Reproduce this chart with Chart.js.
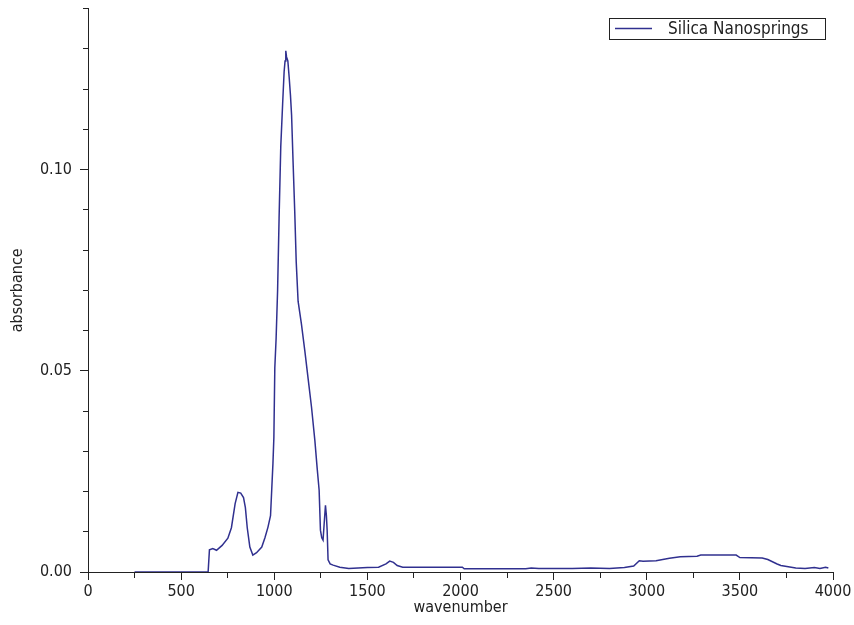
<!DOCTYPE html>
<html><head><meta charset="utf-8">
<script src="https://cdn.jsdelivr.net/npm/chart.js@4"></script>
<style>html,body{margin:0;padding:0;background:#fff}</style>
</head><body>
<canvas id="c" width="854" height="625"></canvas>
<script>
// ---- data ----
const seriesLabel = 'Silica Nanosprings';
const xTitle = 'wavenumber';
const yTitle = 'absorbance';
const xTickValues = [0,250,500,750,1000,1250,1500,1750,2000,2250,2500,2750,3000,3250,3500,3750,4000];
const yTickValues = [0,0.01,0.02,0.03,0.04,0.05,0.06,0.07,0.08,0.09,0.10,0.11,0.12,0.13,0.14];
const xLabelStep = 500;
const yLabelStep = 0.05;

const wavenumber = [250,400,500,600,645,652,670,690,720,751,770,790,805,820,835,845,855,869,885,905,933,950,966,980,987,993,998,1003,1010,1018,1026,1035,1045,1053,1058,1062,1066,1073,1080,1087,1093,1101,1110,1118,1128,1146,1164,1182,1200,1218,1230,1241,1248,1255,1262,1268,1275,1280,1284,1289,1300,1316,1352,1400,1450,1500,1560,1600,1620,1640,1660,1690,1800,1900,2010,2020,2200,2350,2380,2420,2600,2700,2800,2880,2930,2960,2980,3050,3122,3180,3270,3290,3480,3500,3620,3650,3700,3720,3800,3850,3900,3930,3960,3975];
const absorbance = [0,0,0,0,0,0.0055,0.0058,0.0054,0.0066,0.0084,0.011,0.017,0.0198,0.0196,0.0185,0.016,0.011,0.0062,0.0042,0.0048,0.0062,0.0085,0.0111,0.014,0.021,0.027,0.0334,0.0507,0.058,0.070,0.088,0.1057,0.1163,0.1243,0.127,0.1295,0.128,0.127,0.123,0.1185,0.1136,0.102,0.0896,0.077,0.0673,0.0616,0.055,0.048,0.041,0.0327,0.026,0.0203,0.0104,0.0085,0.0079,0.012,0.0166,0.014,0.0104,0.003,0.002,0.0017,0.0012,0.0009,0.001,0.0011,0.0012,0.002,0.0027,0.0024,0.0016,0.0012,0.0012,0.0012,0.0012,0.0008,0.0008,0.0008,0.001,0.0009,0.0009,0.001,0.0009,0.0011,0.0015,0.0028,0.0027,0.0028,0.0034,0.0038,0.0039,0.0042,0.0042,0.0036,0.0035,0.0031,0.002,0.0016,0.001,0.0009,0.0011,0.0009,0.0012,0.001];

// ---- styling ----
const FONT = '"DejaVu Sans Condensed", "Liberation Sans Narrow", "DejaVu Sans", sans-serif';
const INK = '#222';
const LINE = '#30308f';
const TICK_SIZE = 16;
const TITLE_SIZE = 16;

const isMajor = (v, step) => Math.abs(Math.round(v / step) * step - v) < 1e-9;

const legendBox = {
  id: 'legendBox',
  afterDraw(chart) {
    const c = chart.ctx;
    const ds = chart.data.datasets[0];
    c.save();
    c.strokeStyle = INK; c.lineWidth = 1;
    c.strokeRect(609.5, 18.5, 216, 21);
    c.strokeStyle = ds.borderColor; c.lineWidth = 1.5;
    c.beginPath(); c.moveTo(615, 28.5); c.lineTo(652, 28.5); c.stroke();
    c.fillStyle = INK; c.font = '17px ' + FONT; c.textBaseline = 'middle'; c.textAlign = 'left';
    c.fillText(ds.label, 668, 29.5);
    c.restore();
  }
};

new Chart(document.getElementById('c'), {
  type: 'line',
  data: {
    datasets: [{
      label: seriesLabel,
      data: wavenumber.map((x, i) => ({x: x, y: absorbance[i]})),
      borderColor: LINE,
      borderWidth: 1.5,
      pointRadius: 0,
      tension: 0,
      fill: false
    }]
  },
  options: {
    responsive: false,
    animation: false,
    devicePixelRatio: 1,
    layout: {padding: {left: 0, top: 6, right: 21, bottom: 0}},
    plugins: {legend: {display: false}, tooltip: {enabled: false}},
    scales: {
      x: {
        type: 'linear', min: 0, max: 4000,
        afterBuildTicks: s => { s.ticks = xTickValues.map(v => ({value: v})); },
        afterFit: s => { s.height = 53; },
        ticks: {
          autoSkip: false, maxRotation: 0, padding: 2, color: INK,
          font: {family: FONT, size: TICK_SIZE},
          callback: v => isMajor(v, xLabelStep) ? String(v) : ''
        },
        grid: {
          drawOnChartArea: false, tickLength: 8, tickColor: INK, tickWidth: 1,
          tickBorderDash: c => (c.tick && isMajor(c.tick.value, xLabelStep)) ? [] : [5, 100]
        },
        border: {color: INK, width: 1},
        title: {display: true, text: xTitle, color: INK, font: {family: FONT, size: TITLE_SIZE}, padding: {top: 0, bottom: 8}}
      },
      y: {
        type: 'linear', min: 0, max: 0.14,
        afterBuildTicks: s => { s.ticks = yTickValues.map(v => ({value: v})); },
        afterFit: s => { s.width = 88; },
        ticks: {
          autoSkip: false, padding: 8, color: INK,
          font: c => ({family: FONT, size: (c.tick && isMajor(c.tick.value, yLabelStep)) ? TICK_SIZE : 1}),
          callback: v => isMajor(v, yLabelStep) ? v.toFixed(2) : ''
        },
        grid: {
          drawOnChartArea: false, tickLength: 8, tickColor: INK, tickWidth: 1,
          tickBorderDash: c => (c.tick && isMajor(c.tick.value, yLabelStep)) ? [] : [0, 3, 5, 100]
        },
        border: {color: INK, width: 1},
        title: {display: true, text: yTitle, color: INK, font: {family: FONT, size: TITLE_SIZE}, padding: {top: 8, bottom: 0}}
      }
    }
  },
  plugins: [legendBox]
});
</script>
</body></html>
